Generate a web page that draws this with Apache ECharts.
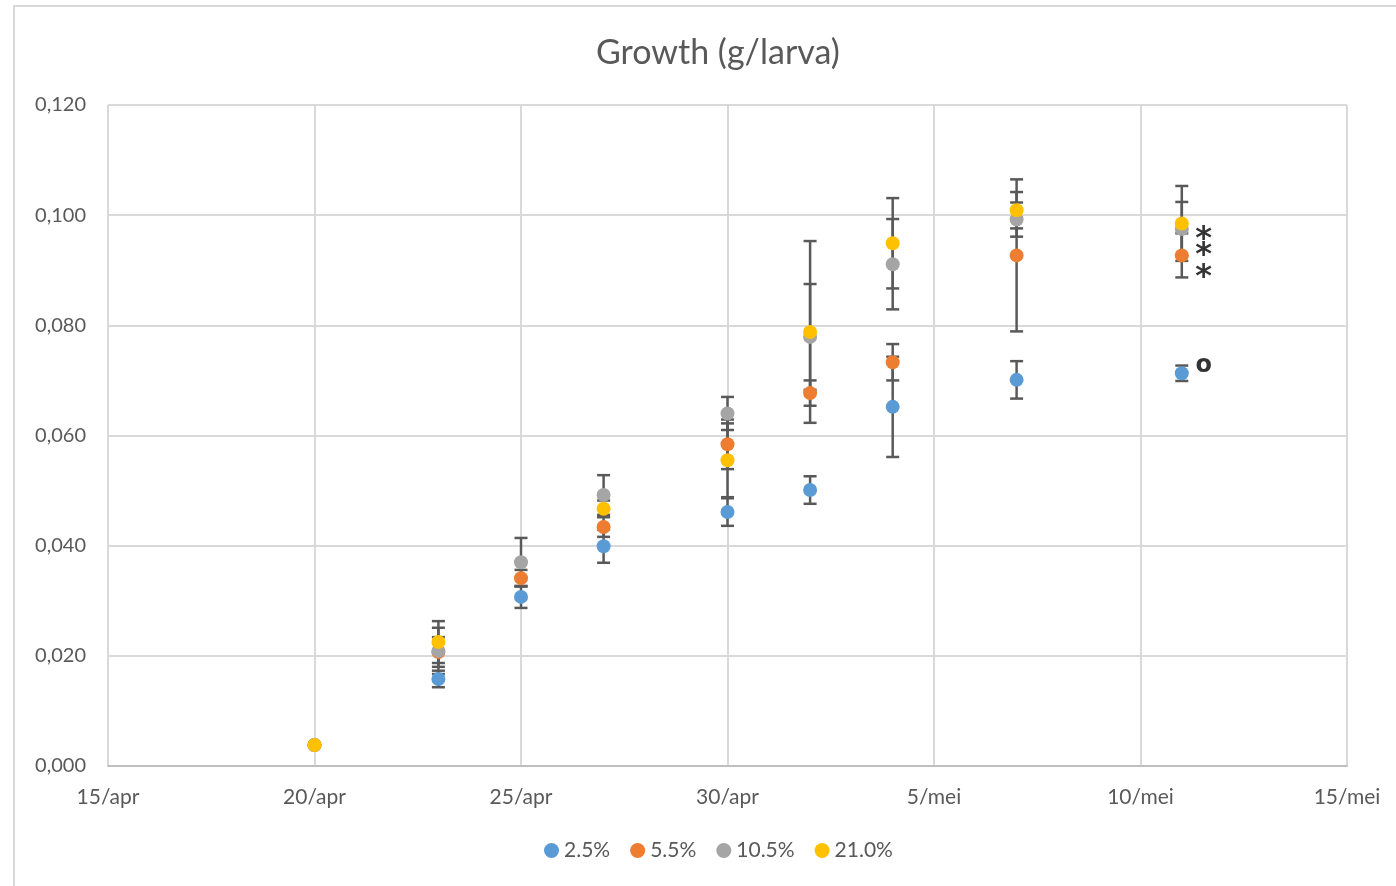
<!DOCTYPE html>
<html>
<head>
<meta charset="utf-8">
<script src="https://cdn.jsdelivr.net/npm/echarts@6/dist/echarts.min.js"></script>
<style>
  html, body { margin: 0; padding: 0; background: #fff; }
  #chart { width: 1396px; height: 886px; }
</style>
</head>
<body>
<div id="chart"></div>
<script>
// sampling dates
const dates = ["2021-04-20", "2021-04-23", "2021-04-25", "2021-04-27", "2021-04-30",
  "2021-05-02", "2021-05-04", "2021-05-07", "2021-05-11"];

const seriesNames = ["2.5%", "5.5%", "10.5%", "21.0%"];
const colors = ["#5B9BD5", "#ED7D31", "#A5A5A5", "#FFC000"];

// growth (g/larva)
const growth25 = [0.0038, 0.0158, 0.0307, 0.0399, 0.0461, 0.0501, 0.0652, 0.0701, 0.0713];
const growth55 = [0.0038, 0.0207, 0.0341, 0.0434, 0.0584, 0.0677, 0.0733, 0.0927, 0.0927];
const growth105 = [0.0038, 0.0209, 0.0370, 0.0492, 0.0640, 0.0779, 0.0911, 0.0992, 0.0975];
const growth210 = [0.0038, 0.0225, null, 0.0467, 0.0555, 0.0788, 0.0949, 0.1009, 0.0985];

// error (+/-)
const err25 = [0, 0.0015, 0.0020, 0.0030, 0.0025, 0.0025, 0.0091, 0.0034, 0.0014];
const err55 = [0, 0.0027, 0.0015, 0.0018, 0.0045, 0.0023, 0.0033, 0.0138, 0.0040];
const err105 = [0, 0.0042, 0.0044, 0.0036, 0.0030, 0.0096, 0.0082, 0.0031, 0.0049];
const err210 = [0, 0.0038, null, 0.0015, 0.0067, 0.0165, 0.0082, 0.0033, 0.0068];

// significance marks next to the last sampling
const annotText = ["*", "*", "*", "o"];
const annotDate = ["2021-05-11", "2021-05-11", "2021-05-11", "2021-05-11"];
const annotValue = [0.0973, 0.0944, 0.0904, 0.0728];

const months = ["jan", "feb", "mrt", "apr", "mei", "jun", "jul", "aug", "sep", "okt", "nov", "dec"];
const startDate = "2021-04-15";
const DAY = 86400000;
const base = Date.parse(startDate + "T00:00:00Z");
function dayOf(d) {
  return Math.round((Date.parse(d + "T00:00:00Z") - base) / DAY);
}

const values = [growth25, growth55, growth105, growth210];
const errors = [err25, err55, err105, err210];

const textColor = "#595959";
const font = "Lato, 'Open Sans', sans-serif";

const series = [];
// error bars first so all markers sit on top
values.forEach((vals, i) => {
  const data = [];
  vals.forEach((v, j) => {
    const e = errors[i][j];
    if (v == null || !e) return;
    data.push([dayOf(dates[j]), v - e, v + e]);
  });
  series.push({
    name: seriesNames[i] + " err",
    type: "custom",
    z: 1,
    silent: true,
    data: data,
    renderItem(params, api) {
      const x = api.value(0);
      const lo = api.coord([x, api.value(1)]);
      const hi = api.coord([x, api.value(2)]);
      const w = 6.5;
      const style = { stroke: textColor, lineWidth: 2.5 };
      return {
        type: "group",
        children: [
          { type: "line", shape: { x1: lo[0], y1: lo[1], x2: hi[0], y2: hi[1] }, style },
          { type: "line", shape: { x1: lo[0] - w, y1: lo[1], x2: lo[0] + w, y2: lo[1] }, style },
          { type: "line", shape: { x1: hi[0] - w, y1: hi[1], x2: hi[0] + w, y2: hi[1] }, style }
        ]
      };
    }
  });
});

values.forEach((vals, i) => {
  series.push({
    name: seriesNames[i],
    type: "scatter",
    z: 3,
    symbol: "circle",
    symbolSize: 14,
    itemStyle: { color: colors[i], opacity: 1 },
    data: vals.map((v, j) => (v == null ? null : [dayOf(dates[j]), v]))
  });
});

// annotations
series.push({
  name: "annot",
  type: "scatter",
  z: 4,
  silent: true,
  symbolSize: 0,
  data: annotText.map((t, k) => ({
    value: [dayOf(annotDate[k]) + 0.53, annotValue[k]],
    label: {
      show: true,
      formatter: t,
      position: "inside",
      color: "#000",
      fontFamily: "'DejaVu Sans', sans-serif",
      fontWeight: "bold",
      fontSize: t === "o" ? 24 : 32,
      offset: t === "o" ? [0, 1] : [0, 10]
    }
  }))
});

const chart = echarts.init(document.getElementById("chart"));
chart.setOption({
  animation: false,
  backgroundColor: "#fff",
  textStyle: { fontFamily: font },
  graphic: [{
    type: "rect",
    shape: { x: 14, y: 6, width: 1420, height: 920 },
    style: { fill: null, stroke: "#d9d9d9", lineWidth: 2 },
    silent: true
  }],
  title: {
    text: "Growth (g/larva)",
    left: 591,
    top: 31,
    textStyle: { color: textColor, fontSize: 34, fontWeight: "normal", fontFamily: font }
  },
  legend: {
    data: seriesNames,
    bottom: 20,
    left: 539,
    icon: "circle",
    itemWidth: 15,
    itemHeight: 15,
    itemGap: 20,
    textStyle: { color: textColor, fontSize: 21, fontFamily: font }
  },
  grid: { left: 108, top: 105, width: 1239, height: 661, containLabel: false },
  xAxis: {
    type: "value",
    min: 0,
    max: 30,
    interval: 5,
    axisLine: { show: true, lineStyle: { color: "#bfbfbf", width: 2 } },
    axisTick: { show: false },
    splitLine: { show: true, lineStyle: { color: "#d9d9d9", width: 2 } },
    axisLabel: {
      color: textColor,
      fontSize: 21,
      margin: 21,
      fontFamily: font,
      formatter(v) {
        const d = new Date(base + v * DAY);
        return d.getUTCDate() + "/" + months[d.getUTCMonth()];
      }
    }
  },
  yAxis: {
    type: "value",
    min: 0,
    max: 0.12,
    interval: 0.02,
    axisLine: { show: false },
    axisTick: { show: false },
    splitLine: { show: true, lineStyle: { color: "#d9d9d9", width: 2 } },
    axisLabel: {
      color: textColor,
      fontSize: 20,
      margin: 22,
      fontFamily: font,
      formatter: (v) => v.toFixed(3).replace(".", ",")
    }
  },
  series: series
});
</script>
</body>
</html>
